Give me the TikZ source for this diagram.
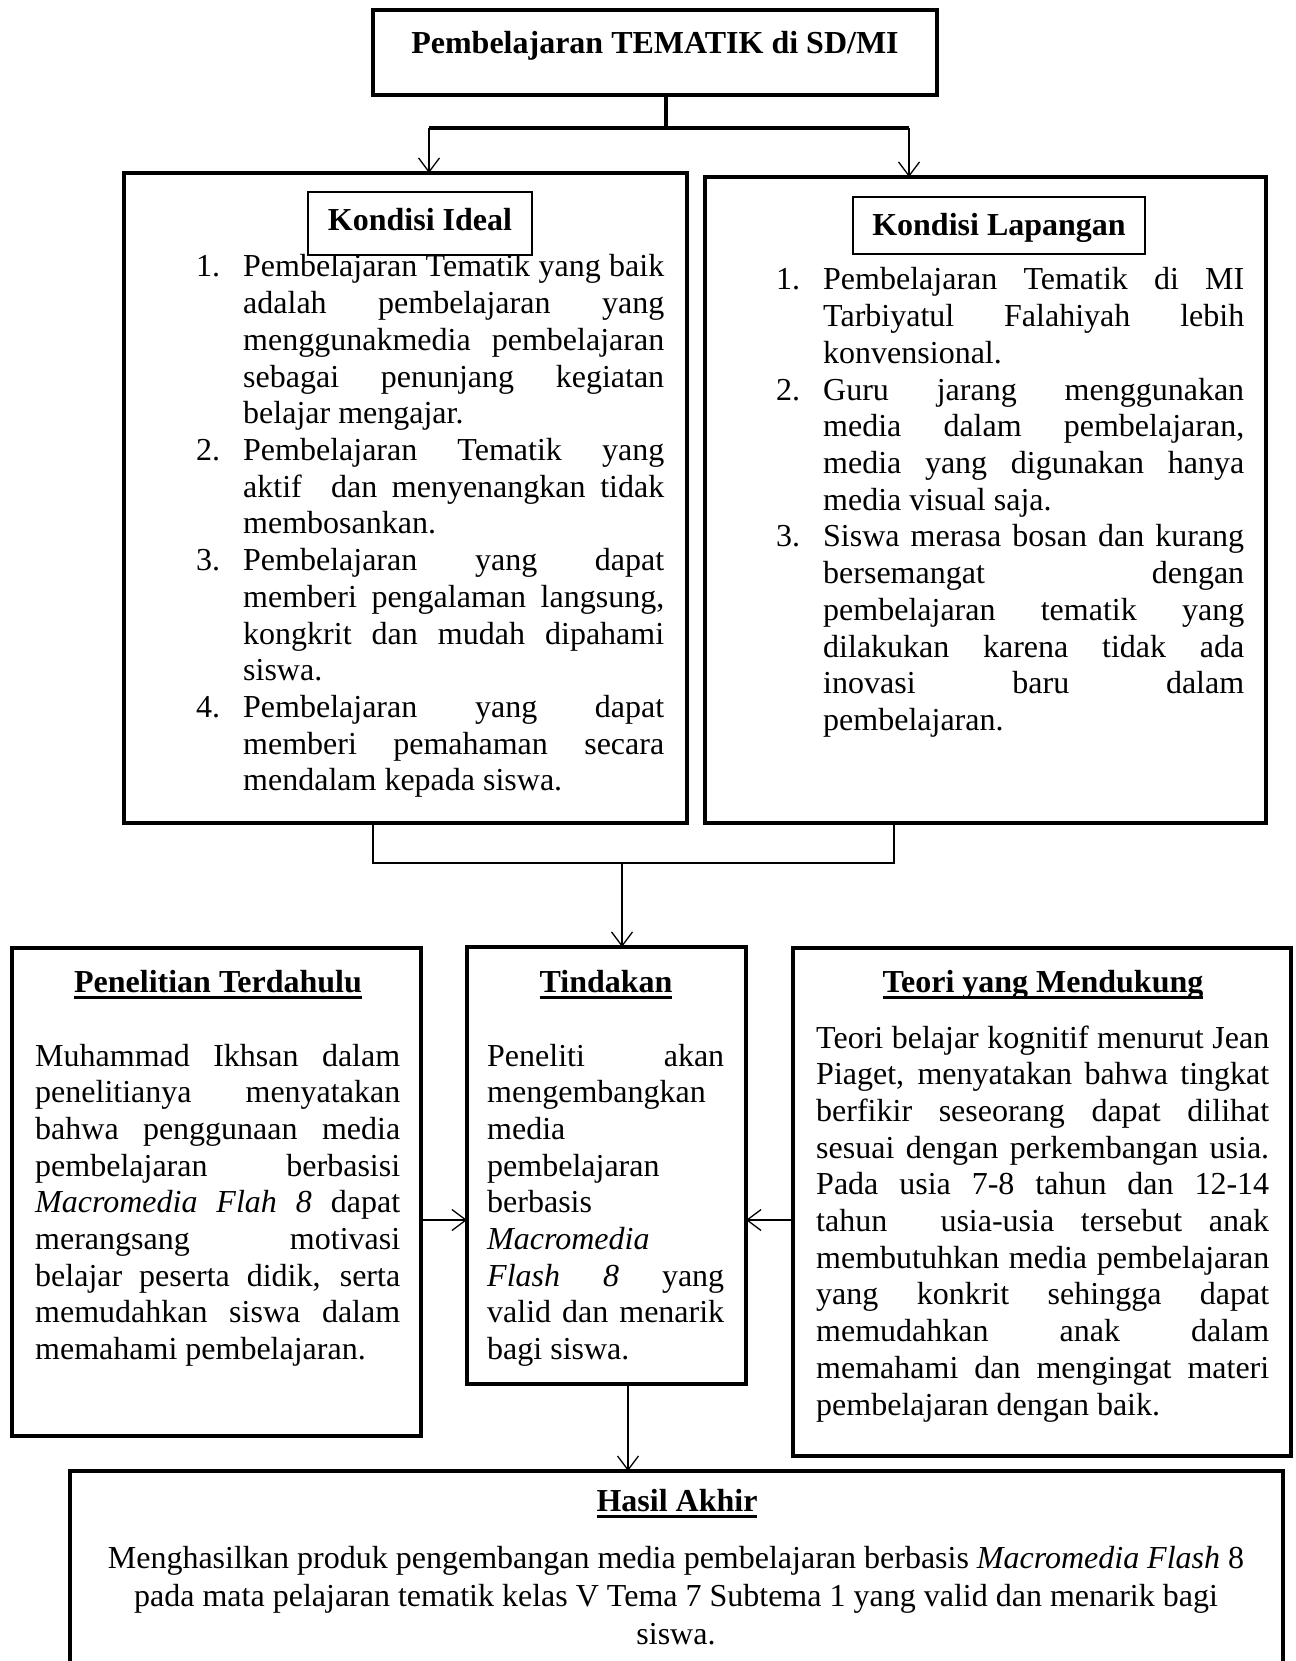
\documentclass[tikz,border=0pt]{standalone}
\usepackage{fontspec}
\setmainfont{Liberation Serif}
\usetikzlibrary{arrows.meta}
\newsavebox\ulsave
\newcommand\ulbf[1]{\sbox\ulsave{\bfseries #1}\rlap{\rule[-7pt]{\wd\ulsave}{2.8pt}}\usebox\ulsave}
\newcommand\itm[2]{\par\noindent\hangindent=47pt\hangafter=1\makebox[47pt][l]{#1}#2\par}
\newcommand\bodyfont{\fontsize{32}{36.7}\selectfont}
\newcommand\bodysetup{\hyphenpenalty=10000\exhyphenpenalty=10000\tolerance=10000\hbadness=10000}
\tikzset{
  frame/.style={draw, line width=4pt, anchor=north west, inner sep=0pt, outer sep=0pt},
  titlebox/.style={draw, fill=white, line width=1.3pt, anchor=north west, inner sep=0pt, outer sep=0pt},
  txt/.style={inner sep=0pt, anchor=base west, font=\bodyfont},
  ttl/.style={inner sep=0pt, anchor=base, font=\bodyfont\bfseries},
  thickline/.style={line width=4pt},
  thinline/.style={line width=1.3pt},
  arr/.style={line width=1.3pt, -{Straight Barb[length=14pt,width=21pt,line width=1.3pt]}}
}
\begin{document}
\begin{tikzpicture}[x=1pt,y=-1pt]
\fill[white] (0,0) rectangle (1295,1661);
\useasboundingbox (0,0) rectangle (1295,1661);

% ---------- boxes ----------
\node[frame, minimum width=564pt, minimum height=85pt] (top) at (373,10) {};
\node[frame, minimum width=563pt, minimum height=650pt] (ideal) at (124,173) {};
\node[frame, minimum width=561pt, minimum height=646pt] (lap) at (705,177) {};
\node[frame, minimum width=409pt, minimum height=488pt] (pen) at (12,948) {};
\node[frame, minimum width=279pt, minimum height=437pt] (tin) at (467,947) {};
\node[frame, minimum width=498pt, minimum height=508pt] (teo) at (793,948) {};
\node[anchor=north west, inner sep=0pt, outer sep=0pt, minimum width=1213pt, minimum height=192pt] (hasil) at (70,1471) {};
\draw[thickline] (hasil.south west) -- (hasil.north west) -- (hasil.north east) -- (hasil.south east);

% ---------- top title ----------
\node[ttl] (toptitle) at (655,54) {Pembelajaran TEMATIK di SD/MI};

% ---------- Kondisi Ideal ----------
\node[txt] (idealtext) at (196,277) {\begin{minipage}[t]{468pt}\bodysetup
\itm{1.}{Pembelajaran Tematik yang baik\linebreak adalah pembelajaran yang\linebreak menggunakmedia pembelajaran\linebreak sebagai penunjang kegiatan\linebreak belajar mengajar.}
\itm{2.}{Pembelajaran Tematik yang\linebreak aktif\ \ dan menyenangkan tidak\linebreak membosankan.}
\itm{3.}{Pembelajaran yang dapat\linebreak memberi pengalaman langsung,\linebreak kongkrit dan mudah dipahami\linebreak siswa.}
\itm{4.}{Pembelajaran yang dapat\linebreak memberi pemahaman secara\linebreak mendalam kepada siswa.}
\end{minipage}};
\node[titlebox, minimum width=224pt, minimum height=63pt] (idealbox) at (308,192) {};
\node[ttl] (idealtitle) at (420,231) {Kondisi Ideal};

% ---------- Kondisi Lapangan ----------
\node[txt] (laptext) at (776,290) {\begin{minipage}[t]{468pt}\bodysetup
\itm{1.}{Pembelajaran Tematik di MI\linebreak Tarbiyatul Falahiyah lebih\linebreak konvensional.}
\itm{2.}{Guru jarang menggunakan\linebreak media dalam pembelajaran,\linebreak media yang digunakan hanya\linebreak media visual saja.}
\itm{3.}{Siswa merasa bosan dan kurang\linebreak bersemangat dengan\linebreak pembelajaran tematik yang\linebreak dilakukan karena tidak ada\linebreak inovasi baru dalam\linebreak pembelajaran.}
\end{minipage}};
\node[titlebox, minimum width=292pt, minimum height=57pt] (lapbox) at (853,197) {};
\node[ttl] (laptitle) at (999,236) {Kondisi Lapangan};

% ---------- lower titles ----------
\node[ttl] (pentitle) at (218,992) {\ulbf{Penelitian Terdahulu}};
\node[ttl] (tintitle) at (606,992) {\ulbf{Tindakan}};
\node[ttl] (teotitle) at (1043,992) {\ulbf{Teori yang Mendukung}};
\node[ttl] (hasiltitle) at (677,1511) {\ulbf{Hasil Akhir}};

% ---------- lower bodies ----------
\node[txt] (pentext) at (35,1066) {\begin{minipage}[t]{365pt}\bodysetup\noindent
Muhammad Ikhsan dalam\linebreak penelitianya menyatakan\linebreak bahwa penggunaan media\linebreak pembelajaran berbasisi\linebreak \textit{Macromedia Flah 8} dapat\linebreak merangsang motivasi\linebreak belajar peserta didik, serta\linebreak memudahkan siswa dalam\linebreak memahami pembelajaran.\par
\end{minipage}};

\node[txt] (tintext) at (487,1066) {\begin{minipage}[t]{237pt}\bodysetup\noindent
Peneliti akan\linebreak mengembangkan\newline media\newline pembelajaran\newline berbasis\newline \textit{Macromedia}\newline \textit{Flash 8} yang\linebreak valid dan menarik\linebreak bagi siswa.\par
\end{minipage}};

\node[txt] (teotext) at (816,1048) {\begin{minipage}[t]{453pt}\bodysetup\noindent
Teori belajar kognitif menurut Jean\linebreak Piaget, menyatakan bahwa tingkat\linebreak berfikir seseorang dapat dilihat\linebreak sesuai dengan perkembangan usia.\linebreak Pada usia 7-8 tahun dan 12-14\linebreak tahun\ \ usia-usia tersebut anak\linebreak membutuhkan media pembelajaran\linebreak yang konkrit sehingga dapat\linebreak memudahkan anak dalam\linebreak memahami dan mengingat materi\linebreak pembelajaran dengan baik.\par
\end{minipage}};

\node[inner sep=0pt, anchor=base, font=\fontsize{32}{38}\selectfont] (hasiltext) at (676,1568) {\begin{minipage}[t]{1200pt}\centering
Menghasilkan produk pengembangan media pembelajaran berbasis \textit{Macromedia Flash} 8\\
pada mata pelajaran tematik kelas V Tema 7 Subtema 1 yang valid dan menarik bagi\\
siswa.\par
\end{minipage}};

% ---------- connectors ----------
\coordinate (trunk) at (666,128);
\coordinate (barL) at (429,128);
\coordinate (barR) at (909,128);
\draw[thickline] (top.south -| trunk) -- (trunk);
\draw[thickline] (barL) -- (barR);
\draw[arr] (barL) -- (barL |- ideal.north);
\draw[arr] (barR) -- (barR |- lap.north);

\coordinate (jL) at (373,863);
\coordinate (jR) at (894,863);
\coordinate (jC) at (622,863);
\draw[thinline] (jL |- ideal.south) -- (jL) -- (jR) -- (jR |- lap.south);
\draw[arr] (jC) -- (jC |- tin.north);

\coordinate (sy) at (0,1220);
\draw[arr] (pen.east |- sy) -- (tin.west |- sy);
\draw[arr] (teo.west |- sy) -- (tin.east |- sy);

\coordinate (bx) at (628,0);
\draw[arr] (bx |- tin.south) -- (bx |- hasil.north);
\end{tikzpicture}
\end{document}
